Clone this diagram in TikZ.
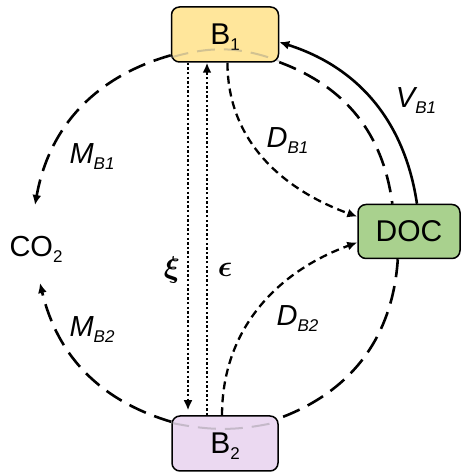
\documentclass[tikz,border=0pt]{standalone}
\usepackage{fontspec}
\setmainfont{Liberation Sans}
\usetikzlibrary{arrows.meta}

\definecolor{poolone}{RGB}{255,230,155}
\definecolor{pooltwo}{RGB}{235,217,241}
\definecolor{docgreen}{RGB}{169,209,142}
\newcommand{\low}[1]{\raisebox{-6pt}[0pt][0pt]{\fontsize{17}{17}\selectfont #1}}

\begin{document}
\begin{tikzpicture}[x=1pt, y=1pt,
  pool/.style={draw, line width=1.5pt, rounded corners=8pt, minimum width=107pt,
    minimum height=55pt, inner sep=0pt, font=\fontsize{30}{32}\selectfont},
  flux/.style={line width=2.6pt, dash pattern=on 18pt off 9pt},
  diffuse/.style={line width=2.3pt, dash pattern=on 8pt off 5pt},
  exch/.style={line width=2.6pt, dash pattern=on 2.4pt off 2.2pt},
  faint/.style={line width=2pt, draw=gray, opacity=.35, dash pattern=on 18pt off 9pt},
  tip/.style={-{Latex[length=10pt,width=9pt]}},
  lab/.style={font=\fontsize{29}{30}\selectfont\itshape},
  greek/.style={scale=3, inner sep=0pt, font=\mathversion{bold}}]
  \useasboundingbox (0,0) rectangle (461,473);

  \node[pool, fill=poolone] (B1) at (225,438.5) {B\low{1}};
  \node[pool, fill=pooltwo, minimum width=106pt] (B2) at (225,29.5) {B\low{2}};
  \node[pool, fill=docgreen, minimum width=102pt, minimum height=54pt] (DOC) at (409,241.5) {DOC};
  \node[font=\fontsize{29}{30}\selectfont] (co2) at (36,226) {CO\low{2}};
  \coordinate (co2top) at ([shift={(-1,42)}]co2.center);
  \coordinate (co2bot) at ([shift={(4,-36)}]co2.center);

  % ring behind the pools
  \draw[faint] (B1.203) to[bend left=18] (B1.334);
  \draw[faint] (B2.159) to[bend right=12] (B2.22);

  % mineralisation
  \draw[flux, tip] (B1.201) to[bend right=32] (co2top);
  \draw[flux, tip] (B2.158) to[bend left=30] (co2bot);
  \draw[flux] (B1.333) to[bend left=31] (DOC.121);
  \draw[flux] (DOC.248) to[bend left=33] (B2.25);

  % uptake and diffusion
  \draw[line width=2.6pt, tip] (DOC.74) to[bend right=32] (B1.352);
  \draw[diffuse, tip] (B1.275) to[out=-90, in=160] (DOC.164);
  \draw[diffuse, tip] (B2.96) to[out=90, in=200] (DOC.192);

  % exchange
  \draw[exch, tip, shorten >=5pt] ([xshift=-37pt]B1.south) -- ([xshift=-37pt]B2.north);
  \draw[exch, tip] ([xshift=-18pt]B2.north) -- ([xshift=-18pt]B1.south);

  \node[lab] (mb1) at (92,319) {M\low{B1}};
  \node[lab] (mb2) at (92,146) {M\low{B2}};
  \node[lab] (db1) at (287.5,335.5) {D\low{B1}};
  \node[lab] (db2) at (297.5,157) {D\low{B2}};
  \node[lab] (vb1) at (416,375) {V\low{B1}};
  \node[greek] (xi) at (172,203) {$\xi$};
  \node[greek] (eps) at (225,203) {$\epsilon$};
\end{tikzpicture}
\end{document}
